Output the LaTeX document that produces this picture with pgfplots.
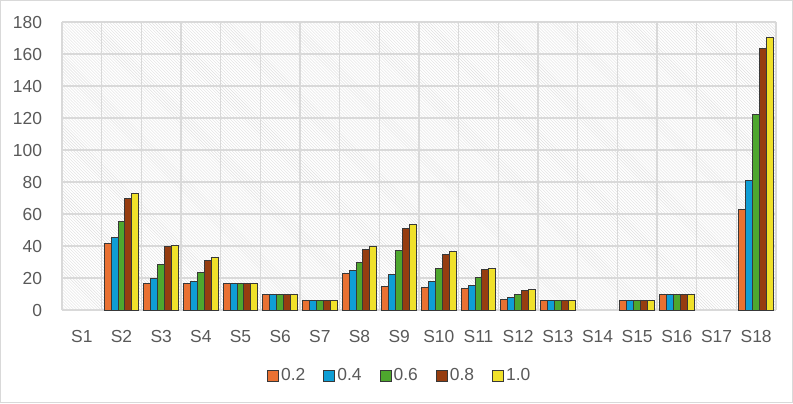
\documentclass[border=0pt]{standalone}
\usepackage{pgfplots}
\pgfplotsset{compat=1.18}
\usepackage{pgfplotstable}
\usetikzlibrary{patterns}
\usepackage{fontspec}
\setmainfont{Liberation Sans}
\definecolor{txt}{HTML}{595959}
\definecolor{gridc}{HTML}{D9D9D9}
\definecolor{cA}{HTML}{E97132}
\definecolor{cB}{HTML}{0F9ED5}
\definecolor{cC}{HTML}{4EA72E}
\definecolor{cD}{HTML}{963D10}
\definecolor{cE}{HTML}{F0E12A}
\pgfplotstableread{
x  a     b     c     d      e
1  41.5  45.6  55.6  70.0   72.9
2  16.7  19.6  28.5  39.4   40.6
3  16.7  17.9  23.3  31.25  32.9
4  16.5  16.5  16.5  16.5   16.5
5  9.8   9.8   9.8   9.8    9.8
6  6.25  6.25  6.25  6.25   6.25
7  23.1  24.4  29.6  37.7   39.4
8  14.8  22.3  37.3  51.25  53.5
9  13.9  17.7  26.0  35.0   36.7
10 13.5  15.4  20.2  25.4   26.0
11 6.7   7.7   9.8   12.5   12.9
12 6.25  6.25  6.25  6.25   6.25
14 6.25  6.25  6.25  6.25   6.25
15 10.0  10.0  10.0  10.0   10.0
17 62.7  81.25 122.0 163.5  170.4
}\datatable
\begin{document}
\fontsize{17.5}{21}\selectfont
\begin{tikzpicture}[x=1bp,y=1bp]
\draw[gridc, line width=1bp] (0.5,0.5) rectangle (792.5,402.5);
\begin{axis}[
  at={(62bp,93bp)}, anchor=south west,
  scale only axis, width=714bp, height=288bp,
  ybar=0pt, bar width=6.9bp,
  xmin=-0.5, xmax=17.5, ymin=0, ymax=180,
  xtick={0,...,17},
  xticklabels={S1,S2,S3,S4,S5,S6,S7,S8,S9,S10,S11,S12,S13,S14,S15,S16,S17,S18},
  minor xtick={-0.5,0.5,...,17.5},
  ytick={0,20,...,180},
  major tick length=0pt, minor tick length=0pt,
  ymajorgrids, xminorgrids,
  grid style={gridc, line width=1.2bp},
  minor grid style={gridc, line width=1.2bp},
  axis line style={draw=none},
  axis background/.style={pattern=north west lines, pattern color=black!13},
  tick label style={font=\fontsize{17.5}{21}\selectfont, text=txt},
  /pgf/number format/assume math mode=true,
  xticklabel style={yshift=-14bp},
  yticklabel style={xshift=-14bp},
  legend columns=5,
  legend style={at={(0.473,-0.229)}, anchor=center, draw=none, fill=none,
    font=\fontsize{17.5}{21}\selectfont, text=txt,
    /tikz/every even column/.append style={column sep=16bp}},
  legend image code/.code={\draw[#1, line width=1bp] (0bp,-5.5bp) rectangle (11bp,5.5bp);},
  every axis plot/.append style={draw=black!78, line width=1bp},
]
\addplot[fill=cA] table[x=x,y=a]{\datatable};
\addplot[fill=cB] table[x=x,y=b]{\datatable};
\addplot[fill=cC] table[x=x,y=c]{\datatable};
\addplot[fill=cD] table[x=x,y=d]{\datatable};
\addplot[fill=cE] table[x=x,y=e]{\datatable};
\legend{0.2,0.4,0.6,0.8,1.0}
\end{axis}
\end{tikzpicture}
\end{document}
